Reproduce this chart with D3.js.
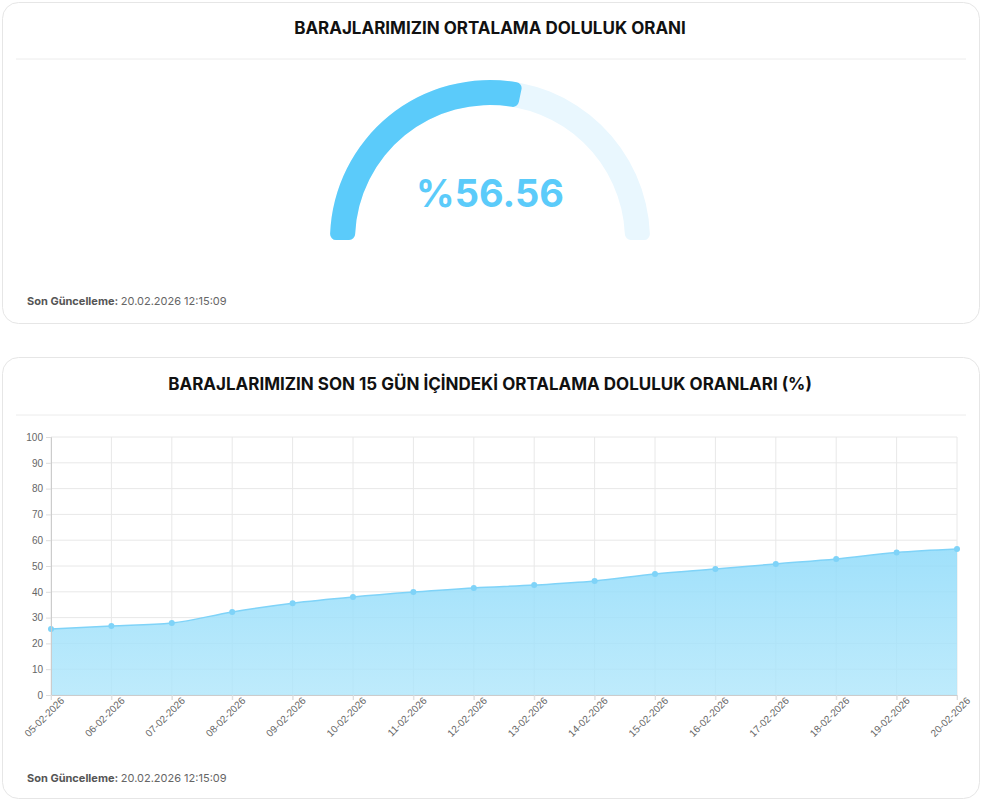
<!DOCTYPE html>
<html><head><meta charset="utf-8">
<script src="https://cdn.jsdelivr.net/npm/d3@7"></script>
<style>body{margin:0;background:#fff;font-family:Inter,"Noto Sans",sans-serif}</style>
</head><body><svg id="c" width="982" height="800"></svg>
<script>
const gaugeValue = 56.56;
const dates = ["05-02-2026","06-02-2026","07-02-2026","08-02-2026","09-02-2026","10-02-2026","11-02-2026","12-02-2026","13-02-2026","14-02-2026","15-02-2026","16-02-2026","17-02-2026","18-02-2026","19-02-2026","20-02-2026"];
const values = [25.6,26.7,27.9,32.2,35.6,38.0,39.9,41.5,42.6,44.2,46.9,48.8,50.8,52.7,55.2,56.56];
const yTicks = [0,10,20,30,40,50,60,70,80,90,100];
const updated = "20.02.2026 12:15:09";

const svg = d3.select("#c");
const blue = "#5bcbfa";

function card(y, h, title, titleY) {
  svg.append("rect").attr("x",2.5).attr("y",y).attr("width",977).attr("height",h)
    .attr("rx",16).attr("fill","#fff").attr("stroke","#e6e6e6");
  svg.append("text").attr("x",490).attr("y",titleY).attr("text-anchor","middle")
    .attr("font-size",17).attr("font-weight",700).attr("fill","#111").text(title);
  svg.append("line").attr("x1",16).attr("x2",966).attr("y1",titleY+25).attr("y2",titleY+25)
    .attr("stroke","#ececec");
}
function footer(y) {
  const t = svg.append("text").attr("x",27).attr("y",y).attr("font-size",11).attr("fill","#666");
  t.append("tspan").attr("font-weight",700).attr("fill","#555").text("Son Güncelleme: ");
  t.append("tspan").text(updated);
}

// gauge card
card(2.5, 321, "BARAJLARIMIZIN ORTALAMA DOLULUK ORANI", 34);
const g = svg.append("g").attr("transform","translate(490,240)");
const ang = d3.scaleLinear().domain([0,100]).range([-Math.PI/2, Math.PI/2]);
const arc = d3.arc().innerRadius(135).outerRadius(160).cornerRadius(6);
g.append("path").attr("d", arc({startAngle:ang(0), endAngle:ang(100)})).attr("fill","#e9f7fe");
g.append("path").attr("d", arc({startAngle:ang(0), endAngle:ang(gaugeValue)})).attr("fill",blue);
g.append("text").attr("y",-33).attr("text-anchor","middle").attr("font-size",38)
  .attr("font-weight",700).attr("fill",blue).text("%" + gaugeValue.toFixed(2));
footer(305);

// line card
card(357.5, 441, "BARAJLARIMIZIN SON 15 GÜN İÇİNDEKİ ORTALAMA DOLULUK ORANLARI (%)", 390);
const x = d3.scalePoint().domain(dates).range([51,957]);
const y = d3.scaleLinear().domain([0,100]).range([695,437]);
const grid = svg.append("g").attr("stroke","#e8e8e8");
yTicks.forEach(t => grid.append("line").attr("x1",51).attr("x2",957).attr("y1",y(t)).attr("y2",y(t)));
dates.forEach(d => grid.append("line").attr("x1",x(d)).attr("x2",x(d)).attr("y1",437).attr("y2",700));

const grad = svg.append("defs").append("linearGradient").attr("id","gr").attr("x1",0).attr("x2",0).attr("y1",0).attr("y2",1);
grad.append("stop").attr("offset","0").attr("stop-color","#8fdbfa").attr("stop-opacity",0.85);
grad.append("stop").attr("offset","1").attr("stop-color","#aee6fb").attr("stop-opacity",0.8);

const pts = dates.map((d,i)=>[d,values[i]]);
svg.append("path").datum(pts).attr("fill","url(#gr)")
  .attr("d", d3.area().x(p=>x(p[0])).y0(y(0)).y1(p=>y(p[1])).curve(d3.curveMonotoneX));
svg.append("path").datum(pts).attr("fill","none").attr("stroke","#7fd3f8").attr("stroke-width",1.5)
  .attr("d", d3.line().x(p=>x(p[0])).y(p=>y(p[1])).curve(d3.curveMonotoneX));
svg.selectAll("circle.p").data(pts).join("circle").attr("cx",p=>x(p[0])).attr("cy",p=>y(p[1]))
  .attr("r",3).attr("fill","#7fd3f8");

const ya = svg.append("g").attr("transform","translate(51,0)")
  .call(d3.axisLeft(y).tickValues(yTicks).tickSize(5).tickPadding(3));
const xa = svg.append("g").attr("transform","translate(0,695)")
  .call(d3.axisBottom(x).tickSize(5));
[ya,xa].forEach(a=>{a.select(".domain").attr("stroke","#ccc");a.selectAll(".tick line").attr("stroke","#ddd");
  a.selectAll("text").attr("fill","#666").attr("font-size",10).attr("font-family","Liberation Sans, Arial");});
xa.selectAll("text").attr("text-anchor","end").attr("dx","0.5em").attr("dy","0.6em")
  .attr("transform","rotate(-45)");
footer(782);
</script></body></html>
